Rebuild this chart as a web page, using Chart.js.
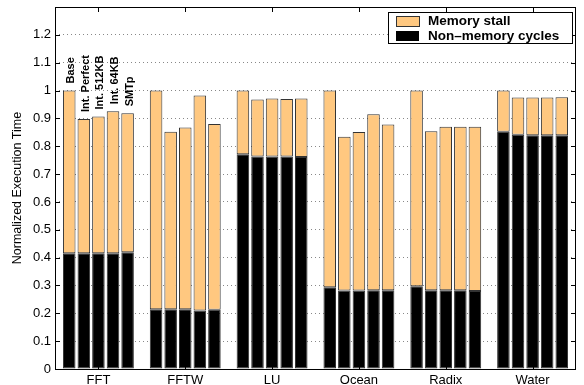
<!DOCTYPE html>
<html>
<head>
<meta charset="utf-8">
<script src="https://cdn.jsdelivr.net/npm/chart.js@4.4.1/dist/chart.umd.min.js"></script>
<style>
  html, body { margin: 0; padding: 0; background: #fff; }
  #wrap { width: 584px; height: 385px; }
</style>
</head>
<body>
<div id="wrap"><canvas id="chart" width="584" height="385"></canvas></div>
<script>
const benchmarks = ["FFT", "FFTW", "LU", "Ocean", "Radix", "Water"];
const configs = ["Base", "Int. Perfect", "Int. 512KB", "Int. 64KB", "SMTp"];
const yTicks = [0, 0.1, 0.2, 0.3, 0.4, 0.5, 0.6, 0.7, 0.8, 0.9, 1, 1.1, 1.2];

// non-memory cycles (black part) per configuration, one value per benchmark
const nonMemBase    = [0.416, 0.215, 0.771, 0.294, 0.297, 0.852];
const nonMemPerfect = [0.416, 0.215, 0.763, 0.282, 0.283, 0.841];
const nonMem512     = [0.416, 0.215, 0.763, 0.282, 0.283, 0.839];
const nonMem64      = [0.416, 0.210, 0.763, 0.283, 0.283, 0.839];
const nonMemSMTp    = [0.419, 0.213, 0.761, 0.283, 0.280, 0.839];

// memory stall (orange part) per configuration
const stallBase    = [0.584, 0.785, 0.229, 0.706, 0.703, 0.148];
const stallPerfect = [0.482, 0.637, 0.205, 0.552, 0.571, 0.134];
const stall512     = [0.491, 0.652, 0.208, 0.569, 0.587, 0.136];
const stall64      = [0.510, 0.772, 0.207, 0.632, 0.587, 0.136];
const stallSMTp    = [0.499, 0.667, 0.210, 0.595, 0.590, 0.137];

const nonMemSeries = [nonMemBase, nonMemPerfect, nonMem512, nonMem64, nonMemSMTp];
const stallSeries = [stallBase, stallPerfect, stall512, stall64, stallSMTp];

const font = "'Liberation Sans', Arial, Helvetica, sans-serif";
const orange = "#ffc880";

const datasets = [];
configs.forEach((cfg, i) => {
    datasets.push({
        label: "Non-memory cycles",
        data: nonMemSeries[i],
        stack: "s" + i,
        backgroundColor: "#000",
        borderColor: "#333",
        borderWidth: 1,
        borderSkipped: false,
    });
    datasets.push({
        label: "Memory stall",
        data: stallSeries[i],
        stack: "s" + i,
        backgroundColor: orange,
        borderColor: "#333",
        borderWidth: 1,
        borderSkipped: false,
    });
});

// box, inward ticks, bar labels and legend
const decor = {
    id: "decor",
    afterDatasetsDraw(chart) {
        const ctx = chart.ctx;
        const a = chart.chartArea;
        const y = chart.scales.y;
        const x = chart.scales.x;
        ctx.save();
        ctx.strokeStyle = "#000";
        ctx.lineWidth = 1;
        ctx.strokeRect(a.left + 0.5, a.top + 0.5, a.right - a.left - 1, a.bottom - a.top);

        ctx.beginPath();
        yTicks.concat([1.3]).forEach((v) => {
            const py = Math.round(y.getPixelForValue(v)) + 0.5;
            ctx.moveTo(a.left, py); ctx.lineTo(a.left + 5, py);
            ctx.moveTo(a.right, py); ctx.lineTo(a.right - 5, py);
        });
        benchmarks.forEach((b, i) => {
            const px = Math.round(x.getPixelForValue(i)) + 0.5;
            ctx.moveTo(px, a.top); ctx.lineTo(px, a.top + 5);
            ctx.moveTo(px, a.bottom); ctx.lineTo(px, a.bottom - 5);
        });
        ctx.stroke();

        // rotated configuration names above the FFT bars
        ctx.fillStyle = "#000";
        ctx.font = "bold 11px " + font;
        ctx.textAlign = "left";
        ctx.textBaseline = "middle";
        configs.forEach((cfg, i) => {
            const el = chart.getDatasetMeta(2 * i + 1).data[0];
            ctx.save();
            ctx.translate(el.x + 2, el.y - 7);
            ctx.rotate(-Math.PI / 2);
            ctx.fillText(cfg, 0, 0);
            ctx.restore();
        });

        // legend
        ctx.fillStyle = "#fff";
        ctx.fillRect(388, 12, 185, 31);
        ctx.strokeRect(388.5, 12.5, 184, 31);
        ctx.fillStyle = orange;
        ctx.fillRect(396, 16, 23, 10);
        ctx.strokeStyle = "#333";
        ctx.strokeRect(396.5, 16.5, 23, 10);
        ctx.fillStyle = "#000";
        ctx.fillRect(396, 31, 23, 10);
        ctx.font = "bold 13.5px " + font;
        ctx.fillText("Memory stall", 428, 21.5);
        ctx.fillText("Non\u2013memory cycles", 428, 36);
        ctx.restore();
    },
};

new Chart(document.getElementById("chart").getContext("2d"), {
    type: "bar",
    data: { labels: benchmarks, datasets: datasets },
    options: {
        responsive: false,
        animation: false,
        layout: { padding: { top: 7, right: 8, left: 0, bottom: 0 } },
        datasets: { bar: { categoryPercentage: 0.84, barPercentage: 0.86 } },
        plugins: { legend: { display: false }, tooltip: { enabled: false } },
        scales: {
            x: {
                stacked: true,
                grid: { display: false, drawTicks: false },
                border: { display: false },
                ticks: { color: "#000", font: { family: font, size: 13 }, padding: 4 },
                afterFit(scale) { scale.height = 16; scale.paddingLeft = 0; scale.paddingRight = 0; },
            },
            y: {
                stacked: true,
                min: 0,
                max: 1.3,
                afterBuildTicks(scale) {
                    scale.ticks = yTicks.concat([1.3]).map((v) => ({ value: v }));
                },
                ticks: {
                    color: "#000",
                    font: { family: font, size: 13 },
                    padding: 4,
                    callback: (v) => (v > 1.25 ? "" : String(Math.round(v * 10) / 10)),
                },
                grid: {
                    drawTicks: false,
                    color: (c) => (c.tick && c.tick.value > 0.05 && c.tick.value < 1.25 ? "#888" : "transparent"),
                },
                border: { display: false, dash: [1, 3] },
                title: {
                    display: true,
                    text: "Normalized Execution Time",
                    color: "#000",
                    font: { family: font, size: 12.5 },
                    padding: { top: 10.5, bottom: 0 },
                },
                afterFit(scale) { scale.width = 55; scale.paddingTop = 0; scale.paddingBottom = 0; },
            },
        },
    },
    plugins: [decor],
});
</script>
</body>
</html>
